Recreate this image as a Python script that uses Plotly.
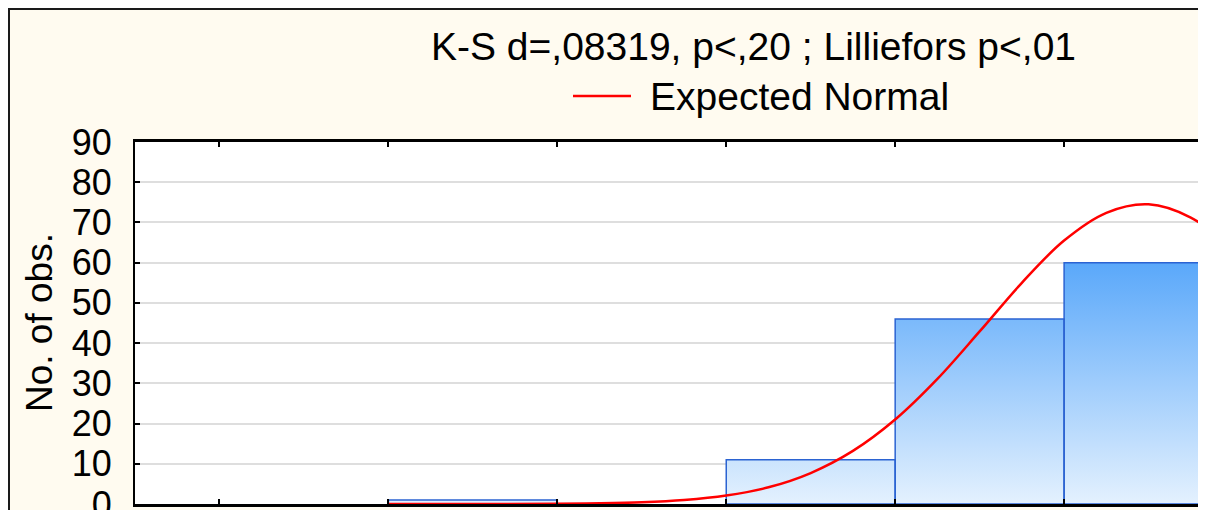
import plotly.graph_objects as go

# ---- data ----
bin_left = [0, 1, 2, 3, 4, 5]          # bin left edges (bin units)
bin_counts = [0, 1, 0, 11, 46, 60]     # No. of obs. per bin
bin_width = 1

normal_x = [1.0, 1.5, 2.0, 2.25, 2.5, 2.75, 3.0, 3.25, 3.5, 3.75, 4.0, 4.25,
            4.5, 4.75, 5.0, 5.25, 5.5, 5.75, 6.0]
normal_y = [0.0, 0.01, 0.07, 0.17, 0.42, 0.98, 2.1, 4.15, 7.7, 13.2, 21.0, 31.1,
            42.9, 55.0, 65.5, 72.4, 74.5, 71.2, 63.2]

y_ticks = [0, 10, 20, 30, 40, 50, 60, 70, 80, 90]
title_text = "K-S d=,08319, p<,20 ; Lilliefors p<,01"
legend_text = "Expected Normal"
y_title = "No. of obs."

FONT = "Liberation Sans, Arial, sans-serif"

# polygons for the histogram bars
px, py = [], []
for left, c in zip(bin_left, bin_counts):
    if c <= 0:
        continue
    right = left + bin_width
    px += [left, left, right, right, left, None]
    py += [0, c, c, 0, 0, None]

fig = go.Figure()
fig.add_trace(go.Scatter(
    x=px, y=py, mode="lines", fill="toself",
    line=dict(color="#2B63D2", width=1.5),
    fillgradient=dict(type="vertical", start=0, stop=60,
                      colorscale=[[0, "#E4F1FE"], [1, "#5AA8FA"]]),
    showlegend=False, hoverinfo="skip"))

fig.add_trace(go.Scatter(
    x=normal_x, y=normal_y, mode="lines", line_shape="spline",
    line=dict(color="#FF0000", width=2.5), name=legend_text, showlegend=False))

# page body has an 8px margin: lay out in screen pixels minus OFF
OFF = 8
W, H = 1206 - OFF, 510 - OFF
ml, mt = 135 - OFF, 142 - OFF
bottom = 504 - OFF
mr, mb = 0, H - bottom
pw, ph = W - ml - mr, H - mt - mb


def pxx(x):
    return (x - OFF - ml) / pw


def pxy(y):
    return (bottom - (y - OFF)) / ph


shapes = [
    dict(type="rect", xref="paper", yref="paper", layer="below",
         x0=pxx(9), x1=1.05, y0=-0.1, y1=pxy(9),
         fillcolor="#FFFBF0", line=dict(color="#1A1A1A", width=2)),
    dict(type="rect", xref="paper", yref="paper", layer="below",
         x0=0, x1=1, y0=0, y1=1, fillcolor="white", line=dict(width=0)),
    dict(type="line", xref="paper", yref="paper",
         x0=pxx(573), x1=pxx(631), y0=pxy(96), y1=pxy(96),
         line=dict(color="#FF0000", width=2.5)),
]

annotations = [
    dict(text=title_text, xref="paper", yref="paper", x=pxx(754), y=pxy(47),
         xanchor="center", yanchor="middle", showarrow=False,
         font=dict(family=FONT, size=39, color="black")),
    dict(text=legend_text, xref="paper", yref="paper", x=pxx(648), y=pxy(97),
         xanchor="left", yanchor="middle", showarrow=False,
         font=dict(family=FONT, size=39, color="black")),
    dict(text=y_title, xref="paper", yref="paper", x=pxx(39), y=0.5,
         xanchor="center", yanchor="middle", showarrow=False, textangle=-90,
         font=dict(family=FONT, size=37, color="black")),
]

fig.update_layout(
    width=W, height=H,
    margin=dict(l=ml, r=mr, t=mt, b=mb, pad=0, autoexpand=False),
    paper_bgcolor="white", plot_bgcolor="white",
    shapes=shapes, annotations=annotations,
    font=dict(family=FONT, color="black"),
)
fig.update_xaxes(
    range=[-0.5, 5.84], tickvals=bin_left, showticklabels=False,
    ticks="inside", ticklen=5, tickwidth=2, tickcolor="black",
    showline=True, linecolor="black", linewidth=2.5, mirror="ticks",
    showgrid=False, zeroline=False, automargin=False)
fig.update_yaxes(
    range=[0, 90], tickvals=y_ticks, ticks="inside", ticklen=5, tickwidth=1.5,
    tickcolor="black", showline=True, linecolor="black", linewidth=2,
    showgrid=True, gridcolor="#DEDEDE", gridwidth=1.5, zeroline=False,
    automargin=False, ticklabeloverflow="allow",
    tickfont=dict(family=FONT, size=36, color="black"), ticklabelstandoff=14)

fig.write_html("out.html")
